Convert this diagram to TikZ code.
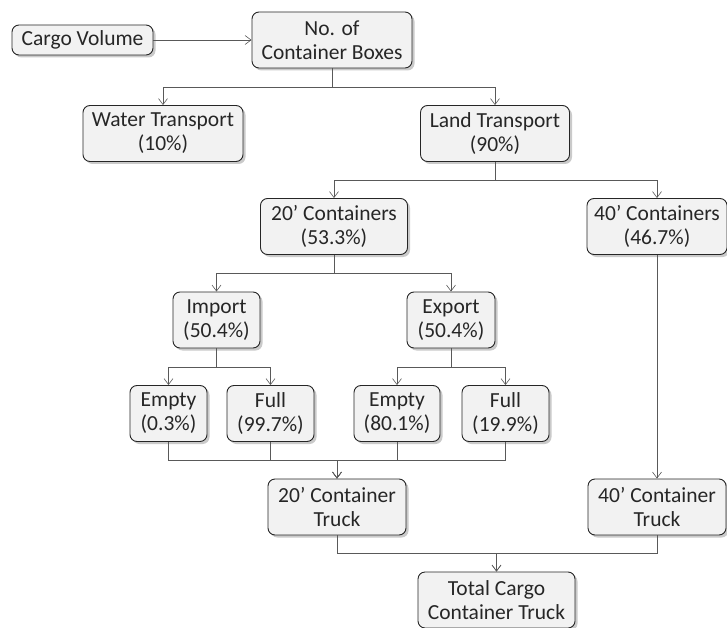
\documentclass[tikz,border=0pt]{standalone}
\usepackage{fontspec}
\setmainfont{Carlito}
\usetikzlibrary{shadows, arrows.meta, positioning}

\begin{document}
\begin{tikzpicture}[x=1pt, y=-1pt,
    box/.style={rectangle, draw=black!85, line width=0.9pt, fill=black!5, rounded corners=7pt, align=center, inner sep=0pt, minimum height=56pt, text=black!85, font=\fontsize{21.5}{24}\selectfont, drop shadow={shadow xshift=2.5pt, shadow yshift=-2.5pt, fill=black!35, opacity=0.6}},
    line/.style={draw=black!65, line width=0.6pt},
    arrow/.style={line, -{Straight Barb[length=6pt, width=9pt]}}
]
    \useasboundingbox (0,0) rectangle (727,628);

    % Top
    \node[box, minimum width=141pt, minimum height=30pt] (cargo) at (82.5, 40) {Cargo Volume};
    \node[box, minimum width=160pt] (boxes) at (332, 40) {No. of\\Container Boxes};

    % Transport
    \node[box, minimum width=160pt] (water) at (163, 133.5) {Water Transport\\(10\%)};
    \node[box, minimum width=149pt] (land) at (495, 133.5) {Land Transport\\(90\%)};

    % Container sizes
    \node[box, minimum width=147pt] (cont20) at (334, 226.5) {20’ Containers\\(53.3\%)};
    \node[box, minimum width=140pt] (cont40) at (657, 226.5) {40’ Containers\\(46.7\%)};

    % Import / Export
    \node[box, minimum width=87pt] (imp) at (216.5, 320) {Import\\(50.4\%)};
    \node[box, minimum width=88pt] (exp) at (451, 320) {Export\\(50.4\%)};

    % Empty / Full
    \node[box, minimum width=77pt] (impempty) at (168.5, 413.5) {Empty\\(0.3\%)};
    \node[box, minimum width=87pt] (impfull) at (270.5, 413.5) {Full\\(99.7\%)};
    \node[box, minimum width=86pt] (expempty) at (397, 413.5) {Empty\\(80.1\%)};
    \node[box, minimum width=87pt] (expfull) at (505.5, 413.5) {Full\\(19.9\%)};

    % Trucks
    \node[box, minimum width=138pt] (truck20) at (337, 507) {20’ Container\\Truck};
    \node[box, minimum width=138pt] (truck40) at (657, 507) {40’ Container\\Truck};
    \node[box, minimum width=157pt] (total) at (496.5, 600) {Total Cargo\\Container Truck};

    % Lines
    \draw[arrow] (cargo) -- (boxes);
    \draw[arrow] (boxes.south) -- ++(0,19) -| (water.north);
    \draw[arrow] (boxes.south) -- ++(0,19) -| (land.north);

    \draw[arrow] (land.south) -- ++(0,18) -| (cont20.north);
    \draw[arrow] (land.south) -- ++(0,18) -| (cont40.north);

    \draw[arrow] (cont20.south) -- ++(0,18) -| (imp.north);
    \draw[arrow] (cont20.south) -- ++(0,18) -| (exp.north);

    \draw[arrow] (imp.south) -- ++(0,19) -| (impempty.north);
    \draw[arrow] (imp.south) -- ++(0,19) -| (impfull.north);
    \draw[arrow] (exp.south) -- ++(0,19) -| (expempty.north);
    \draw[arrow] (exp.south) -- ++(0,19) -| (expfull.north);

    \draw[arrow] (impempty.south) -- ++(0,18) -| (truck20.north);
    \draw[arrow] (impfull.south) -- ++(0,18) -| (truck20.north);
    \draw[arrow] (expempty.south) -- ++(0,18) -| (truck20.north);
    \draw[arrow] (expfull.south) -- ++(0,18) -| (truck20.north);

    \draw[arrow] (cont40) -- (truck40);

    \draw[arrow] (truck20.south) -- ++(0,18) -| (total.north);
    \draw[arrow] (truck40.south) -- ++(0,18) -| (total.north);

\end{tikzpicture}
\end{document}
